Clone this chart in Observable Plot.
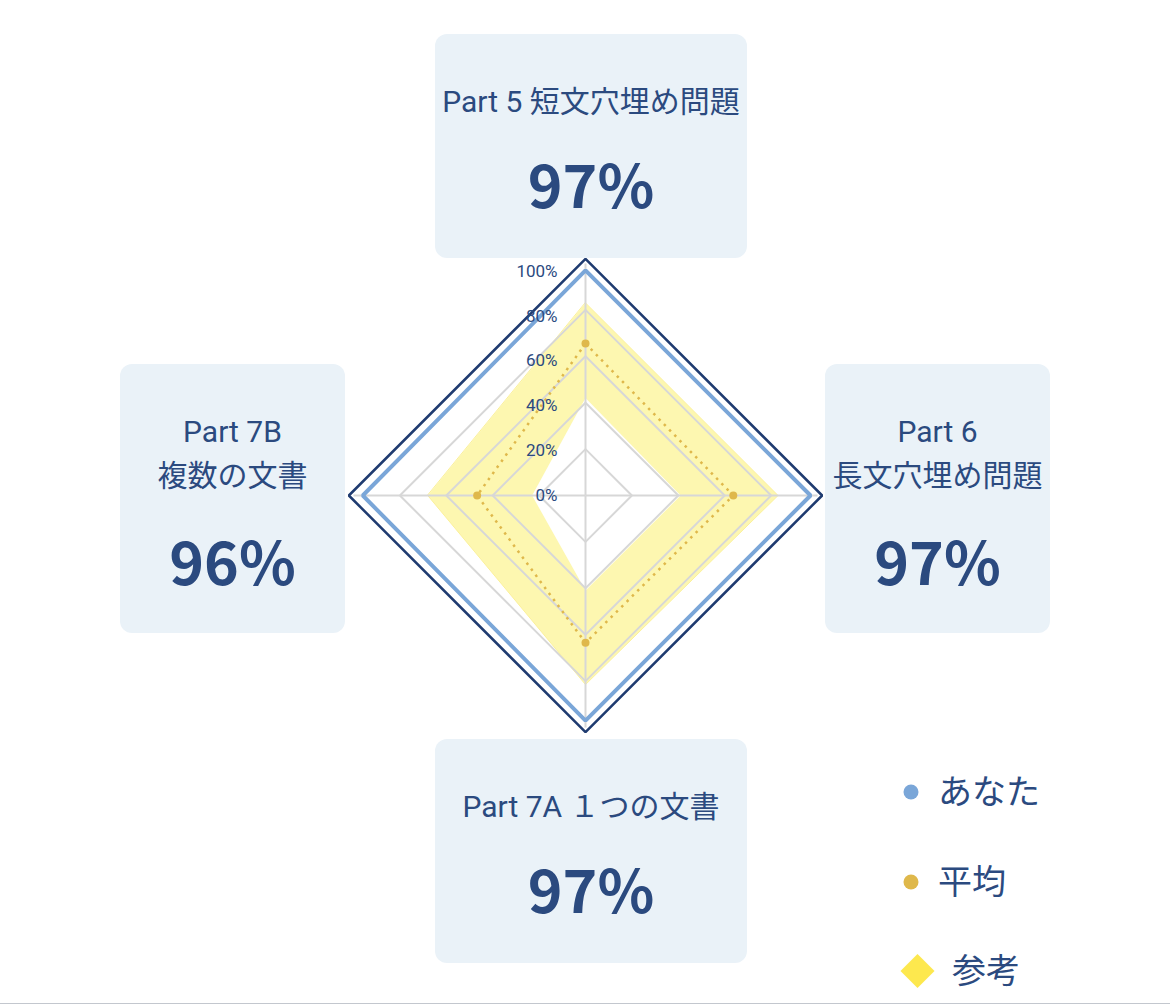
<!DOCTYPE html>
<html>
<head>
<meta charset="utf-8">
<script src="https://cdn.jsdelivr.net/npm/d3@7"></script>
<script src="https://cdn.jsdelivr.net/npm/@observablehq/plot@0.6"></script>
<style>
  html, body { margin: 0; padding: 0; background: #fff; overflow: hidden; }
  #wrap { position: relative; width: 1170px; height: 1008px; }
  #wrap > svg { position: absolute; left: 0; top: 0; }
  #rule { position: absolute; left: 0; top: 1003px; width: 1170px; height: 0; border-top: 1.5px solid #c3c7ce; }
</style>
</head>
<body>
<div id="wrap"><div id="rule"></div></div>
<script>
// ---- data ----
const categories = ["Part 5 短文穴埋め問題", "Part 6\n長文穴埋め問題", "Part 7A １つの文書", "Part 7B\n複数の文書"];
const you = [97, 97, 97, 96];            // あなた
const average = [65.5, 63.7, 63.5, 46.7]; // 平均
const refHigh = [83, 83, 81.5, 68];       // 参考 (upper edge)
const refLow = [42, 41, 41, 23];          // 参考 (lower edge)
const tickLevels = [0, 20, 40, 60, 80, 100];
const gridLevels = [20, 40, 60, 80];
const frameLevel = 102;
const legendLabels = ["あなた", "平均", "参考"];

// ---- style ----
const navy = "#2b4a7f", frameNavy = "#1f3b70", blue = "#7aa6d8", gold = "#dfb84b";
const refFill = "#fdf7b0", grid = "#d7d7d7", boxFill = "#eaf2f8";
const cx = 585, cy = 495, R = 232;

const ang = i => i * Math.PI / 2;
const poly = vals => vals.map((v, i) => ({cat: categories[i], v, x: v * Math.sin(ang(i)), y: v * Math.cos(ang(i))}));
const rings = gridLevels.flatMap(l => poly(categories.map(() => l)).map(d => ({...d, level: l})));
const spokes = categories.map((c, i) => ({cat: c, x: 100 * Math.sin(ang(i)), y: 100 * Math.cos(ang(i))}));
const ticks = tickLevels.map(t => ({t, label: t + "%"}));
const labelShrink = 0.966;

const wrap = d3.select("#wrap");

// ---- underlay: category boxes + legend ----
const boxes = [
  {left: 435, top: 34, w: 312, h: 224, titleBase: [112], valueBase: 208},
  {left: 825, top: 364, w: 225, h: 269, titleBase: [442, 486], valueBase: 585},
  {left: 435, top: 739, w: 312, h: 224, titleBase: [817], valueBase: 913},
  {left: 120, top: 364, w: 225, h: 269, titleBase: [442, 486], valueBase: 585}
];
const under = wrap.append("svg").attr("width", 1170).attr("height", 1008);
categories.forEach((c, i) => {
  const b = boxes[i];
  const g = under.append("g");
  g.append("rect").attr("x", b.left).attr("y", b.top).attr("width", b.w).attr("height", b.h)
    .attr("rx", 12).attr("fill", boxFill);
  c.split("\n").forEach((line, j) => {
    g.append("text").attr("x", b.left + b.w / 2).attr("y", b.titleBase[j])
      .attr("text-anchor", "middle").attr("fill", navy)
      .style("font-family", "Roboto, 'Noto Sans CJK JP', sans-serif").style("font-size", "30px")
      .text(line);
  });
  g.append("text").attr("x", b.left + b.w / 2).attr("y", b.valueBase)
    .attr("text-anchor", "middle").attr("fill", navy)
    .style("font-family", "'Noto Sans CJK JP', sans-serif").style("font-size", "59px").style("font-weight", 700)
    .text(you[i] + "%");
});
// legend
const leg = under.append("g");
const legY = [792, 882, 971];
leg.append("circle").attr("cx", 911).attr("cy", legY[0]).attr("r", 7.5).attr("fill", blue);
leg.append("circle").attr("cx", 911).attr("cy", legY[1]).attr("r", 7.5).attr("fill", gold);
leg.append("path").attr("d", `M917.5,${legY[2] - 17}L934.5,${legY[2]}L917.5,${legY[2] + 17}L900.5,${legY[2]}Z`).attr("fill", "#fde84e");
legendLabels.forEach((l, i) => {
  leg.append("text").attr("x", i === 2 ? 952 : 938).attr("y", legY[i]).attr("dy", "0.36em")
    .attr("fill", navy).style("font-family", "'Noto Sans CJK JP', sans-serif").style("font-size", "34px")
    .text(l);
});

// ---- radar (Observable Plot) ----
const chart = Plot.plot({
  width: 1170,
  height: 1008,
  margin: 0,
  x: {domain: [-100, 100], range: [cx - R, cx + R], axis: null},
  y: {domain: [-100, 100], range: [cy + R, cy - R], axis: null},
  style: {background: "transparent", overflow: "visible"},
  marks: [
    Plot.line(poly(refHigh), {x: "x", y: "y", curve: "linear-closed", fill: refFill, stroke: "#fbf09a", strokeWidth: 1}),
    Plot.line(poly(refLow), {x: "x", y: "y", curve: "linear-closed", fill: "#ffffff", stroke: "none"}),
    Plot.line(rings, {x: "x", y: "y", z: "level", curve: "linear-closed", stroke: grid, strokeWidth: 2, strokeLinejoin: "miter"}),
    Plot.link(spokes, {x1: 0, y1: 0, x2: "x", y2: "y", stroke: grid, strokeWidth: 2}),
    Plot.line(poly(average), {x: "x", y: "y", curve: "linear-closed", stroke: gold, strokeWidth: 2.5, strokeDasharray: "2.5,5", strokeLinecap: "butt"}),
    Plot.dot(poly(average), {x: "x", y: "y", r: 4, fill: gold}),
    Plot.line(poly(you), {x: "x", y: "y", curve: "linear-closed", stroke: blue, strokeWidth: 4, strokeLinejoin: "miter"}),
    Plot.line(poly(categories.map(() => frameLevel)), {x: "x", y: "y", curve: "linear-closed", stroke: frameNavy, strokeWidth: 2.5, strokeLinejoin: "miter"}),
    Plot.text(ticks, {x: 0, y: d => d.t * labelShrink, text: "label", textAnchor: "end", dx: -28, fill: navy, fontSize: 17, fontFamily: "Roboto, sans-serif"})
  ]
});
wrap.node().appendChild(chart);
</script>
</body>
</html>
